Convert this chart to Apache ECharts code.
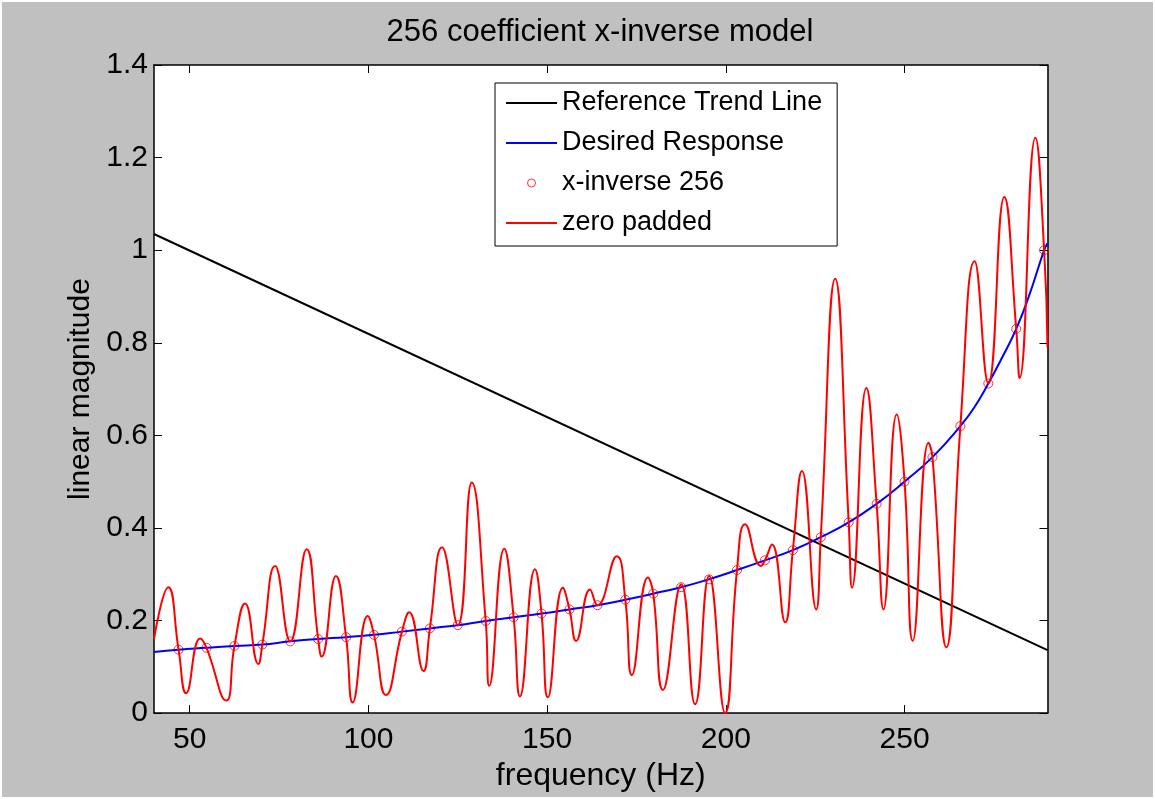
<!DOCTYPE html>
<html>
<head>
<meta charset="utf-8">
<title>256 coefficient x-inverse model</title>
<script src="https://cdn.jsdelivr.net/npm/echarts@6/dist/echarts.min.js"></script>
<style>
  html, body { margin: 0; padding: 0; background: #ffffff; }
  #chart { position: absolute; left: 2px; top: 2px; width: 1151px; height: 795px; }
</style>
</head>
<body>
<div id="chart"></div>
<script>
// Axis ticks (Hz) shown on the frequency axis
const freqTicks = [50, 100, 150, 200, 250];

// Straight reference trend line (end points)
const trendFreq = [40, 290];
const trendMag = [1.035, 0.136];

// Desired x-inverse response
const desiredFreq = [40, 46.875, 54.6875, 62.5, 70.3125, 78.125, 85.9375, 93.75, 101.5625,
  109.375, 117.1875, 125, 132.8125, 140.625, 148.4375, 156.25, 164.0625, 171.875,
  179.6875, 187.5, 195.3125, 203.125, 210.9375, 218.75, 226.5625, 234.375, 242.1875,
  250, 257.8125, 265.625, 269.5, 273.4375, 277.3, 281.25, 285, 289.0625, 290];
const desiredMag = [0.132, 0.137, 0.141, 0.145, 0.148, 0.155, 0.160, 0.164, 0.169,
  0.176, 0.183, 0.190, 0.199, 0.207, 0.215, 0.224, 0.233, 0.245,
  0.258, 0.272, 0.289, 0.309, 0.330, 0.352, 0.380, 0.412, 0.452,
  0.500, 0.553, 0.620, 0.660, 0.712, 0.768, 0.830, 0.905, 1.000, 1.015];

// 256-coefficient bins (fs = 2000 Hz, 7.8125 Hz spacing)
const binFreq = [46.875, 54.6875, 62.5, 70.3125, 78.125, 85.9375, 93.75, 101.5625,
  109.375, 117.1875, 125, 132.8125, 140.625, 148.4375, 156.25, 164.0625, 171.875,
  179.6875, 187.5, 195.3125, 203.125, 210.9375, 218.75, 226.5625, 234.375, 242.1875,
  250, 257.8125, 265.625, 273.4375, 281.25, 289.0625];
const binMag = [0.137, 0.141, 0.145, 0.148, 0.155, 0.160, 0.164, 0.169,
  0.176, 0.183, 0.190, 0.199, 0.207, 0.215, 0.224, 0.233, 0.245,
  0.258, 0.272, 0.289, 0.309, 0.330, 0.352, 0.380, 0.412, 0.452,
  0.500, 0.553, 0.620, 0.712, 0.830, 1.000];

// Zero padded response: bin crossings plus the peaks and dips between them
const paddedFreq = [40, 44.0, 46.875, 49.0, 52.9, 54.6875, 60.2, 62.5, 65.5, 69.2, 70.3125,
  73.9, 78.125, 82.7, 85.9375, 86.9, 90.9, 93.75, 95.6, 99.8, 101.5625, 104.9,
  109.375, 111.4, 115.4, 117.1875, 120.6, 125, 128.9, 132.8125, 133.8, 138.0,
  140.625, 142.4, 146.6, 148.4375, 150.2, 154.4, 156.25, 158.1, 162.0, 164.0625,
  169.5, 171.875, 173.7, 178.2, 179.6875, 182.4, 187.5, 191.4, 195.3125, 199.8,
  203.125, 205.4, 209.8, 210.9375, 212.9, 216.6, 218.75, 221.3, 225.3, 226.5625,
  230.6, 234.375, 235.3, 239.3, 242.1875, 244.1, 247.8, 250, 252.3, 256.7,
  257.8125, 261.7, 265.625, 269.6, 273.4375, 277.9, 281.25, 282.2, 286.6,
  289.0625, 290];
const paddedMag = [0.160, 0.272, 0.137, 0.043, 0.161, 0.141, 0.027, 0.145, 0.237, 0.106, 0.148,
  0.318, 0.155, 0.354, 0.160, 0.122, 0.296, 0.164, 0.023, 0.210, 0.169, 0.039,
  0.176, 0.218, 0.091, 0.183, 0.358, 0.190, 0.498, 0.199, 0.059, 0.355,
  0.207, 0.036, 0.311, 0.215, 0.034, 0.271, 0.224, 0.156, 0.267, 0.233,
  0.339, 0.245, 0.082, 0.293, 0.258, 0.050, 0.278, 0.019, 0.296, 0.000,
  0.309, 0.408, 0.318, 0.330, 0.364, 0.196, 0.352, 0.523, 0.224, 0.380,
  0.938, 0.412, 0.271, 0.702, 0.452, 0.224, 0.645, 0.500, 0.156, 0.584,
  0.553, 0.142, 0.620, 0.976, 0.712, 1.115, 0.830, 0.724, 1.243,
  1.000, 0.790];

const zip = (xs, ys) => xs.map((x, i) => [x, ys[i]]);

const FONT = 'Liberation Sans, Arial, Helvetica, sans-serif';
const AXIS_COLOR = '#000000';

const chart = echarts.init(document.getElementById('chart'), null, { renderer: 'canvas' });

const commonX = {
  type: 'value', min: 40, max: 290,
  splitLine: { show: false },
  axisLine: { show: true, onZero: false, lineStyle: { color: AXIS_COLOR, width: 1.5 } },
  axisTick: { show: true, inside: true, length: 8, customValues: freqTicks,
    lineStyle: { color: AXIS_COLOR, width: 1 } }
};
const commonY = {
  type: 'value', min: 0, max: 1.4, interval: 0.2,
  splitLine: { show: false },
  axisLine: { show: true, onZero: false, lineStyle: { color: AXIS_COLOR, width: 1.5 } },
  axisTick: { show: true, inside: true, length: 8, lineStyle: { color: AXIS_COLOR, width: 1 } }
};

const lineIcon = 'path://M0 0 H51 V2 H0 Z';

chart.setOption({
  animation: false,
  backgroundColor: '#c0c0c0',
  title: {
    text: '256 coefficient x-inverse model',
    left: 598, top: 15, padding: 0,
    textAlign: 'center',
    textStyle: { fontFamily: FONT, fontSize: 31, fontWeight: 'normal', color: '#000' }
  },
  grid: { left: 152, top: 63, width: 893.5, height: 649, show: true,
    backgroundColor: '#ffffff', borderWidth: 0 },
  legend: {
    orient: 'vertical', left: 493, top: 81,
    padding: [5, 15, 8, 11], itemGap: 10,
    itemWidth: 51, itemHeight: 8,
    backgroundColor: '#ffffff', borderColor: '#000', borderWidth: 1, borderRadius: 0,
    selectedMode: false,
    textStyle: { fontFamily: FONT, fontSize: 27, lineHeight: 30, color: '#000' },
    data: [
      { name: 'Reference Trend Line', icon: lineIcon, itemStyle: { color: '#000000' } },
      { name: 'Desired Response', icon: lineIcon, itemStyle: { color: '#0000ff' } },
      { name: 'x-inverse 256', icon: 'circle',
        itemStyle: { color: '#ffffff', borderColor: '#ff0000', borderWidth: 1 } },
      { name: 'zero padded', icon: lineIcon, itemStyle: { color: '#ff0000' } }
    ]
  },
  xAxis: [
    Object.assign({}, commonX, {
      position: 'bottom',
      name: 'frequency (Hz)', nameLocation: 'middle', nameGap: 40,
      nameTextStyle: { fontFamily: FONT, fontSize: 32, color: '#000' },
      axisLabel: { show: true, margin: 12, customValues: freqTicks,
        fontFamily: FONT, fontSize: 30, color: '#000' }
    }),
    Object.assign({}, commonX, { position: 'top', axisLabel: { show: false } })
  ],
  yAxis: [
    Object.assign({}, commonY, {
      position: 'left',
      name: 'linear magnitude', nameLocation: 'middle', nameGap: 54,
      nameTextStyle: { fontFamily: FONT, fontSize: 30, color: '#000' },
      axisLabel: { show: true, margin: 6, fontFamily: FONT, fontSize: 30, color: '#000' }
    }),
    Object.assign({}, commonY, { position: 'right', axisLabel: { show: false } })
  ],
  series: [
    {
      name: 'Reference Trend Line', type: 'line', symbol: 'none',
      data: zip(trendFreq, trendMag),
      lineStyle: { color: '#000000', width: 2 }, itemStyle: { color: '#000000' }
    },
    {
      name: 'Desired Response', type: 'line', symbol: 'none', smooth: true,
      data: zip(desiredFreq, desiredMag),
      lineStyle: { color: '#0000ff', width: 2 }, itemStyle: { color: '#0000ff' }
    },
    {
      name: 'x-inverse 256', type: 'scatter', symbol: 'circle', symbolSize: 9,
      data: zip(binFreq, binMag),
      itemStyle: { color: 'rgba(255,255,255,0)', borderColor: '#ff0000', borderWidth: 1 }
    },
    {
      name: 'zero padded', type: 'line', symbol: 'none', smooth: 0.5,
      data: zip(paddedFreq, paddedMag),
      lineStyle: { color: '#ff0000', width: 2 }, itemStyle: { color: '#ff0000' }
    }
  ]
});
</script>
</body>
</html>
